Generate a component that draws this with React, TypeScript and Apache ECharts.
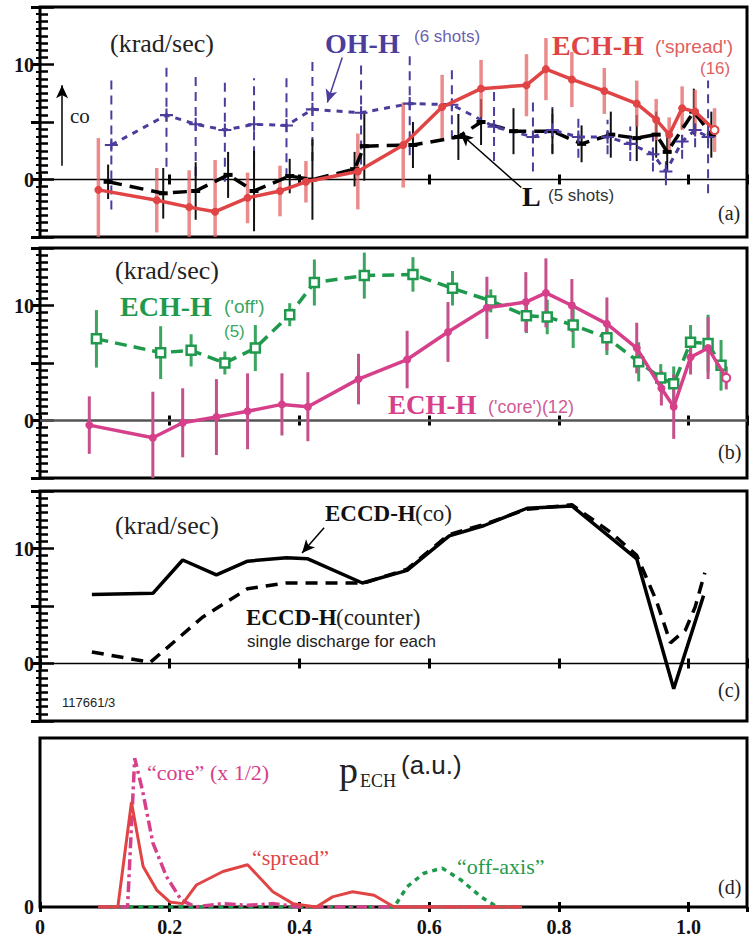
import { useEffect, useRef } from 'react';
import * as echarts from 'echarts';

const X_MAX = 1.09;
const SERIF = 'Liberation Serif';
const SANS = 'Liberation Sans';

// (a) ECH-H 'spread'
const spreadRho = [0.09, 0.18, 0.23, 0.27, 0.32, 0.37, 0.41, 0.49, 0.56, 0.62, 0.68, 0.75, 0.78, 0.82, 0.87, 0.92, 0.95, 0.97, 0.99, 1.01, 1.04];
const spreadVal = [-0.9, -1.8, -2.4, -2.8, -1.6, -1.0, -0.2, 0.7, 3.0, 6.3, 7.9, 8.2, 9.6, 8.7, 7.7, 6.6, 5.2, 3.9, 6.2, 5.9, 4.3];
const spreadErr = [4.5, 2.8, 3.2, 4.5, 2.2, 2.2, 1.8, 3.3, 3.7, 2.8, 2.5, 2.7, 2.7, 2.4, 2.0, 2.0, 1.8, 1.5, 1.9, 1.9, 1.9];

// (a) OH-H (6 shots)
const ohRho = [0.11, 0.195, 0.24, 0.285, 0.33, 0.38, 0.42, 0.495, 0.57, 0.635, 0.7, 0.76, 0.79, 0.83, 0.875, 0.91, 0.945, 0.965, 0.99, 1.01, 1.03];
const ohVal = [3.0, 5.6, 4.8, 4.3, 4.8, 4.7, 6.1, 5.8, 6.6, 6.5, 4.6, 3.7, 4.3, 3.7, 3.7, 3.1, 2.2, 0.7, 3.3, 4.3, 3.7];
const ohErr = [5.6, 4.5, 4.5, 4.5, 4.0, 4.5, 4.5, 4.5, 4.5, 3.0, 3.0, 3.0, 2.0, 1.8, 1.5, 1.5, 1.5, 1.2, 1.5, 1.5, 4.9];

// (a) L (5 shots)
const lRho = [0.105, 0.19, 0.24, 0.29, 0.33, 0.385, 0.42, 0.485, 0.5, 0.575, 0.645, 0.68, 0.73, 0.79, 0.835, 0.88, 0.92, 0.95, 0.967, 1.008, 1.035];
const lVal = [-0.2, -1.2, -1.0, 0.4, -1.0, 0.3, 0.0, 0.9, 2.9, 3.0, 3.7, 5.0, 4.2, 4.2, 3.1, 3.9, 3.6, 3.9, 2.4, 5.9, 3.9];
const lErr = [1.5, 2.2, 2.5, 2.0, 3.5, 1.5, 3.5, 1.5, 3.0, 2.0, 2.0, 2.0, 2.0, 2.0, 1.6, 2.0, 2.0, 2.0, 1.5, 2.0, 2.0];

// (b) ECH-H 'off' (5)
const offRho = [0.087, 0.186, 0.233, 0.285, 0.332, 0.385, 0.423, 0.5, 0.575, 0.636, 0.695, 0.75, 0.782, 0.822, 0.874, 0.923, 0.957, 0.977, 1.003, 1.03, 1.05];
const offVal = [7.1, 5.9, 6.1, 5.0, 6.3, 9.2, 12.0, 12.6, 12.7, 11.5, 10.4, 9.1, 9.0, 8.3, 7.2, 5.1, 3.7, 3.2, 6.8, 6.7, 4.8];
const offErr = [2.5, 2.3, 1.4, 1.0, 2.0, 1.0, 2.0, 2.0, 1.5, 1.5, 1.0, 1.5, 1.5, 2.0, 1.5, 1.7, 1.2, 1.5, 1.5, 2.5, 2.2];

// (b) ECH-H 'core' (12)
const coreRho = [0.076, 0.174, 0.22, 0.272, 0.32, 0.373, 0.413, 0.491, 0.566, 0.629, 0.689, 0.749, 0.78, 0.82, 0.874, 0.92, 0.958, 0.977, 1.003, 1.03, 1.058];
const coreVal = [-0.4, -1.5, -0.2, 0.3, 0.8, 1.4, 1.2, 3.6, 5.3, 7.7, 9.8, 10.3, 11.1, 10.0, 8.4, 6.3, 2.8, 1.2, 5.5, 6.3, 3.7];
const coreErr = [2.5, 4.0, 3.0, 3.3, 3.3, 2.7, 3.0, 2.2, 2.5, 2.6, 2.7, 2.6, 3.0, 2.3, 2.3, 2.2, 1.5, 2.8, 1.5, 2.7, 1.0];

// (c) ECCD-H co / counter
const coRho = [0.08, 0.174, 0.22, 0.272, 0.32, 0.38, 0.413, 0.497, 0.566, 0.631, 0.685, 0.751, 0.82, 0.92, 0.977, 1.023];
const coVal = [6.0, 6.1, 9.0, 7.7, 8.9, 9.2, 9.1, 7.0, 8.1, 11.1, 12.0, 13.5, 13.7, 9.1, -2.2, 5.9];
const counterRho = [0.08, 0.17, 0.25, 0.32, 0.38, 0.5, 0.566, 0.63, 0.685, 0.75, 0.82, 0.88, 0.92, 0.95, 0.972, 0.995, 1.01, 1.025];
const counterVal = [1.0, 0.1, 4.0, 6.5, 7.0, 7.0, 8.2, 11.2, 12.1, 13.4, 13.8, 11.4, 9.4, 5.5, 1.8, 2.9, 4.9, 7.9];

// (d) P_ECH profiles
const pSpreadRho = [0.09, 0.12, 0.141, 0.159, 0.18, 0.2, 0.22, 0.241, 0.282, 0.32, 0.359, 0.39, 0.426, 0.451, 0.482, 0.515, 0.546, 0.743];
const pSpread = [0, 0, 0.62, 0.24, 0.1, 0.03, 0.02, 0.13, 0.21, 0.25, 0.09, 0.02, 0, 0.06, 0.09, 0.07, 0, 0];
const pCoreRho = [0.09, 0.135, 0.146, 0.158, 0.174, 0.195, 0.218, 0.24, 0.28, 0.32, 0.36, 0.4, 0.74];
const pCore = [0, 0, 0.88, 0.69, 0.38, 0.18, 0.04, 0, 0.02, 0.01, 0.02, 0, 0];
const pOffRho = [0.09, 0.546, 0.566, 0.592, 0.62, 0.649, 0.68, 0.705, 0.743];
const pOff = [0, 0, 0.12, 0.2, 0.23, 0.16, 0.06, 0, 0];

const xTicks = [0, 0.2, 0.4, 0.6, 0.8, 1.0];

const RED = '#e04444';
const RED_ERR = 'rgba(228,100,100,0.75)';
const BLUE = '#4a3d9c';
const GREEN = '#1f9a4c';
const GREEN_ERR = '#3aa660';
const PINK = '#d6408a';
const PINK_ERR = '#c4508c';

const pts = (rho: number[], val: number[]) => rho.map((r, i) => [r, val[i]]);
const errs = (rho: number[], val: number[], err: number[]) =>
  rho.map((r, i) => [r, val[i] - err[i], val[i] + err[i]]);

function errSeries(g: number, data: number[][], color: string, width: number, dash?: number[]) {
  return {
    type: 'custom',
    xAxisIndex: g * 2,
    yAxisIndex: g * 2,
    clip: true,
    silent: true,
    z: 2,
    encode: { x: 0, y: [1, 2] },
    data,
    renderItem: (_p: any, api: any) => {
      const a = api.coord([api.value(0), api.value(1)]);
      const b = api.coord([api.value(0), api.value(2)]);
      return {
        type: 'line',
        shape: { x1: a[0], y1: a[1], x2: b[0], y2: b[1] },
        style: { stroke: color, lineWidth: width, lineDash: dash },
      };
    },
  };
}

function lineSeries(g: number, data: any[], color: string, width: number, type: any, extra: any = {}) {
  return {
    type: 'line',
    xAxisIndex: g * 2,
    yAxisIndex: g * 2,
    data,
    symbol: 'none',
    silent: true,
    z: 3,
    lineStyle: { color, width, type },
    ...extra,
  };
}

function zeroLine(g: number, color: string, width: number, arrows: number[][][] = []) {
  return lineSeries(g, [[0, 0], [X_MAX, 0]], color, width, 'solid', {
    z: 1,
    markLine: {
      silent: true,
      symbol: ['none', 'arrow'],
      symbolSize: [9, 13],
      label: { show: false },
      lineStyle: { color: '#000', width: 1.5, type: 'solid' },
      data: arrows.map(([s, e]) => [{ coord: s }, { coord: e }]),
    },
  });
}

function text(x: number, y: number, t: string, size: number, fill: string, opts: any = {}) {
  return {
    type: 'text',
    x,
    y,
    silent: true,
    style: {
      text: t,
      fill,
      fontSize: size,
      fontFamily: opts.family || SERIF,
      fontWeight: opts.bold ? 'bold' : 'normal',
      textAlign: 'left',
      textVerticalAlign: 'middle',
    },
  };
}

function buildOption() {
  const grids = [
    { top: 7, height: 230 },
    { top: 248, height: 230 },
    { top: 491, height: 230 },
    { top: 738, height: 169 },
  ].map((g) => ({ ...g, left: 40, right: 3, show: true, borderColor: '#000', borderWidth: 3, backgroundColor: '#fff' }));

  const xAxis: any[] = [];
  const yAxis: any[] = [];
  const tickLabel = { fontFamily: SERIF, fontWeight: 'bold', fontSize: 20, color: '#111' };
  for (let g = 0; g < 4; g++) {
    const base = {
      type: 'value',
      gridIndex: g,
      min: 0,
      max: X_MAX,
      interval: 0.2,
      axisLine: { show: false },
      axisTick: { inside: true, length: 5, lineStyle: { color: '#000', width: 3 } },
      splitLine: { show: false },
    };
    xAxis.push({
      ...base,
      position: 'bottom',
      axisLabel:
        g === 3
          ? {
              ...tickLabel,
              margin: 10,
              showMaxLabel: false,
              formatter: (v: number) => (xTicks.some((t) => Math.abs(t - v) < 1e-6) ? (v === 0 ? '0' : v.toFixed(1)) : ''),
            }
          : { show: false },
    });
    xAxis.push({ ...base, position: 'top', axisLabel: { show: false } });

    if (g < 3) {
      yAxis.push({
        type: 'value',
        gridIndex: g,
        min: -5,
        max: 15,
        interval: 5,
        position: 'left',
        axisLine: { show: false },
        axisTick: { inside: true, length: 14, lineStyle: { color: '#000', width: 2.5 } },
        minorTick: { show: true, splitNumber: 8, length: 8, lineStyle: { color: '#000', width: 2.5 } },
        splitLine: { show: false },
        axisLabel: { ...tickLabel, margin: 6, formatter: (v: number) => (v === 0 || v === 10 ? String(v) : '') },
      });
      yAxis.push({
        type: 'value',
        gridIndex: g,
        min: -5,
        max: 15,
        interval: 5,
        position: 'right',
        axisLine: { show: false },
        axisTick: { inside: true, length: 9, lineStyle: { color: '#000', width: 3 } },
        minorTick: { show: true, splitNumber: 8, length: 4, lineStyle: { color: '#000', width: 2 } },
        splitLine: { show: false },
        axisLabel: { show: false },
      });
    } else {
      yAxis.push({
        type: 'value',
        gridIndex: g,
        min: 0,
        max: 1,
        interval: 1,
        position: 'left',
        axisLine: { show: false },
        axisTick: { show: false },
        splitLine: { show: false },
        axisLabel: { ...tickLabel, margin: 6, formatter: (v: number) => (v === 0 ? '0' : '') },
      });
      yAxis.push({ type: 'value', gridIndex: g, min: 0, max: 1, position: 'right', show: false });
    }
  }

  const spreadPts: any[] = pts(spreadRho, spreadVal);
  spreadPts[spreadPts.length - 1] = {
    value: spreadPts[spreadPts.length - 1],
    itemStyle: { color: '#fff', borderColor: RED, borderWidth: 2 },
  };
  const corePts: any[] = pts(coreRho, coreVal);
  corePts[corePts.length - 1] = {
    value: corePts[corePts.length - 1],
    itemStyle: { color: '#fff', borderColor: PINK, borderWidth: 2 },
  };

  const cross = 'path://M0,4.2H10V5.8H0Z M4.2,0H5.8V10H4.2Z';

  const series: any[] = [
    // (a)
    zeroLine(0, '#000', 1.5, [
      [[0.034, 1.2], [0.034, 8.2]],
      [[0.742, -0.7], [0.648, 4.0]],
    ]),
    errSeries(0, errs(ohRho, ohVal, ohErr), BLUE, 2, [9, 6]),
    errSeries(0, errs(lRho, lVal, lErr), '#111', 2),
    errSeries(0, errs(spreadRho, spreadVal, spreadErr), RED_ERR, 3.5),
    lineSeries(0, pts(lRho, lVal), '#000', 3.5, [14, 8], {
      symbol: 'rect',
      symbolSize: [9, 4],
      itemStyle: { color: '#000' },
    }),
    lineSeries(0, pts(ohRho, ohVal), BLUE, 3, [6, 6], {
      symbol: cross,
      symbolSize: 13,
      itemStyle: { color: BLUE },
      markLine: {
        silent: true,
        symbol: ['none', 'arrow'],
        symbolSize: [9, 13],
        label: { show: false },
        lineStyle: { color: BLUE, width: 1.5, type: 'solid' },
        data: [[{ coord: [0.466, 10.6] }, { coord: [0.443, 6.7] }]],
      },
    }),
    lineSeries(0, spreadPts, RED, 3.5, 'solid', {
      symbol: 'circle',
      symbolSize: 8,
      itemStyle: { color: RED },
      z: 4,
    }),

    // (b)
    zeroLine(1, '#555', 2.5),
    errSeries(1, errs(offRho, offVal, offErr), GREEN_ERR, 3),
    errSeries(1, errs(coreRho, coreVal, coreErr), PINK_ERR, 3),
    lineSeries(1, pts(offRho, offVal), GREEN, 3.5, [12, 7], {
      symbol: 'rect',
      symbolSize: 9,
      itemStyle: { color: '#fff', borderColor: GREEN, borderWidth: 2.5 },
    }),
    lineSeries(1, corePts, PINK, 3.5, 'solid', {
      symbol: 'circle',
      symbolSize: 8,
      itemStyle: { color: PINK },
      z: 4,
    }),

    // (c)
    zeroLine(2, '#000', 1.5, [[[0.438, 11.8], [0.404, 9.6]]]),
    lineSeries(2, pts(counterRho, counterVal), '#000', 3.5, [12, 8]),
    lineSeries(2, pts(coRho, coVal), '#000', 3.5, 'solid'),

    // (d)
    lineSeries(3, pts(pOffRho, pOff), GREEN, 3.5, [5, 5]),
    lineSeries(3, pts(pCoreRho, pCore), PINK, 3.5, [11, 4, 3, 4]),
    lineSeries(3, pts(pSpreadRho, pSpread), RED, 3, 'solid'),
  ];

  const graphic: any[] = [
    // (a)
    text(110, 43, '(krad/sec)', 26, '#222'),
    text(325, 43, 'OH-H', 28, BLUE, { bold: true }),
    text(414, 36, '(6 shots)', 17, '#6a5fb0', { family: SANS }),
    text(552, 45, 'ECH-H', 28, RED, { bold: true }),
    text(655, 46, "('spread')", 19, '#e06060', { family: SANS }),
    text(700, 68, '(16)', 17, '#e06060', { family: SANS }),
    text(70, 116, 'co', 21, '#222'),
    text(522, 196, 'L', 28, '#111', { bold: true }),
    text(548, 195, '(5 shots)', 17, '#333', { family: SANS }),
    text(718, 213, '(a)', 20, '#222'),
    // (b)
    text(115, 270, '(krad/sec)', 26, '#222'),
    text(120, 306, 'ECH-H', 28, GREEN, { bold: true }),
    text(224, 306, "('off')", 19, '#3aa660', { family: SANS }),
    text(224, 331, '(5)', 17, '#3aa660', { family: SANS }),
    text(388, 405, 'ECH-H', 27, PINK, { bold: true }),
    text(488, 407, "('core')(12)", 18, '#d05c96', { family: SANS }),
    text(718, 452, '(b)', 20, '#222'),
    // (c)
    text(115, 525, '(krad/sec)', 26, '#222'),
    text(325, 513, 'ECCD-H', 23, '#111', { bold: true }),
    text(415, 513, '(co)', 23, '#222'),
    text(246, 617, 'ECCD-H', 23, '#111', { bold: true }),
    text(336, 617, '(counter)', 23, '#222'),
    text(247, 641, 'single discharge for each', 17, '#222', { family: SANS }),
    text(62, 702, '117661/3', 13, '#222', { family: SANS }),
    text(718, 690, '(c)', 20, '#222'),
    // (d)
    text(147, 772, '\u201ccore\u201d (x 1/2)', 22, PINK),
    text(339, 770, 'p', 38, '#222'),
    text(360, 781, 'ECH', 18, '#222'),
    text(401, 765, '(a.u.)', 26, '#222', { family: SANS }),
    text(252, 857, '\u201cspread\u201d', 22, RED),
    text(457, 866, '\u201coff-axis\u201d', 22, GREEN),
    text(718, 887, '(d)', 20, '#222'),
  ];

  return {
    animation: false,
    backgroundColor: '#fff',
    textStyle: { fontFamily: SERIF },
    grid: grids,
    xAxis,
    yAxis,
    series,
    graphic,
  };
}

export default function App() {
  const chartRef = useRef<HTMLDivElement>(null);

  useEffect(() => {
    if (!chartRef.current) return;
    const chart = echarts.init(chartRef.current, undefined, { renderer: 'svg' });
    chart.setOption(buildOption());
    return () => chart.dispose();
  }, []);

  return (
    <div
      ref={chartRef}
      style={{ position: 'absolute', left: 0, top: 0, width: 750, height: 941, background: '#fff' }}
    />
  );
}
